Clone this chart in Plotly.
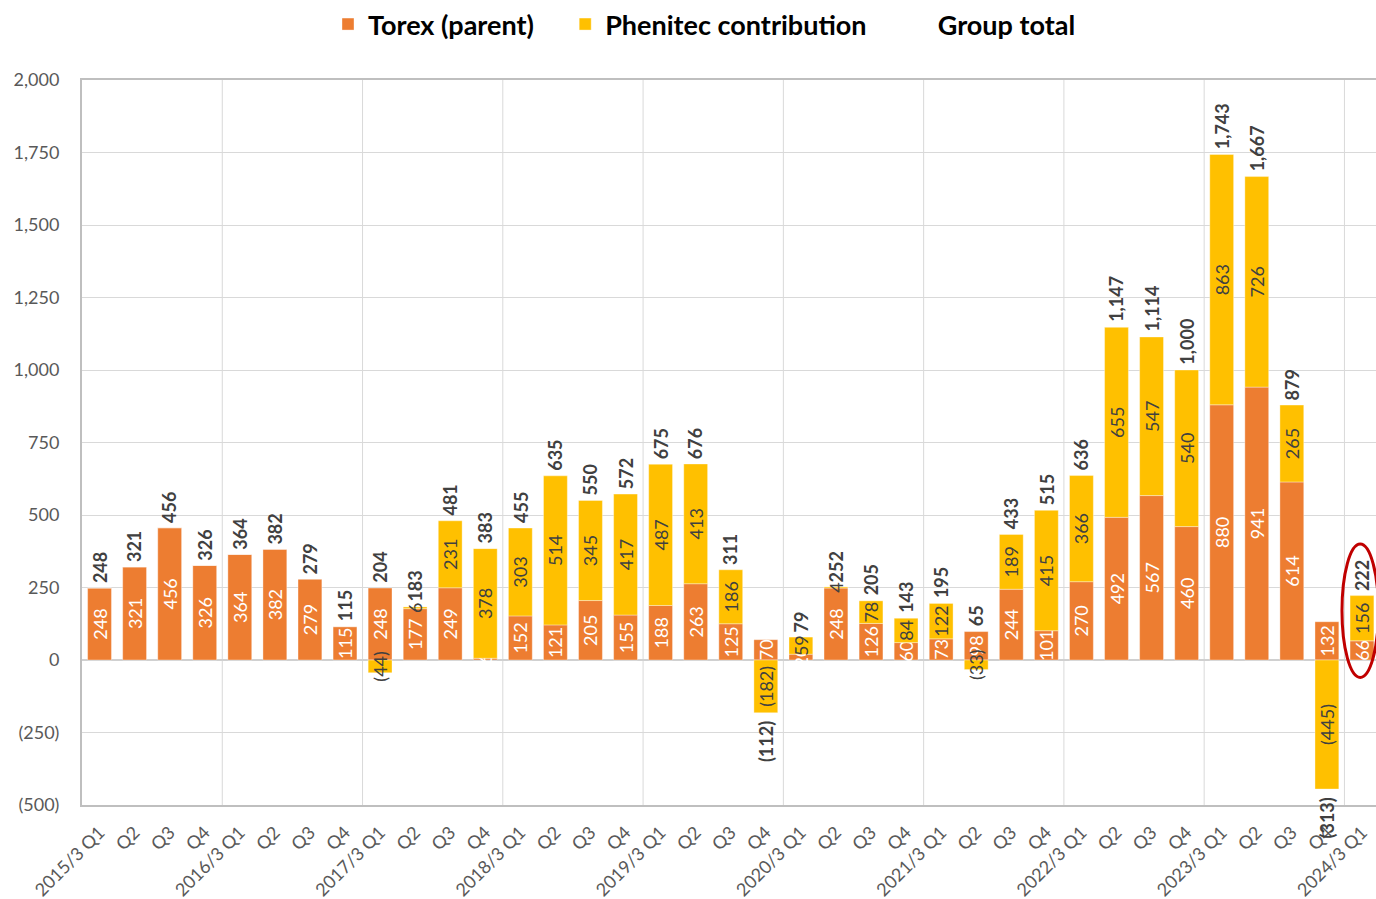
import plotly.graph_objects as go

quarters = [
    "2015/3 Q1", "Q2", "Q3", "Q4",
    "2016/3 Q1", "Q2", "Q3", "Q4",
    "2017/3 Q1", "Q2", "Q3", "Q4",
    "2018/3 Q1", "Q2", "Q3", "Q4",
    "2019/3 Q1", "Q2", "Q3", "Q4",
    "2020/3 Q1", "Q2", "Q3", "Q4",
    "2021/3 Q1", "Q2", "Q3", "Q4",
    "2022/3 Q1", "Q2", "Q3", "Q4",
    "2023/3 Q1", "Q2", "Q3", "Q4",
    "2024/3 Q1",
]

torex = [
    248, 321, 456, 326,
    364, 382, 279, 115,
    248, 177, 249, 6,
    152, 121, 205, 155,
    188, 263, 125, 70,
    20, 248, 126, 60,
    73, 98, 244, 101,
    270, 492, 567, 460,
    880, 941, 614, 132,
    66,
]

phenitec = [
    0, 0, 0, 0,
    0, 0, 0, 0,
    -44, 6, 231, 378,
    303, 514, 345, 417,
    487, 413, 186, -182,
    59, 4, 78, 84,
    122, -33, 189, 415,
    366, 655, 547, 540,
    863, 726, 265, -445,
    156,
]

group_total = [
    248, 321, 456, 326,
    364, 382, 279, 115,
    204, 183, 481, 383,
    455, 635, 550, 572,
    675, 676, 311, -112,
    79, 252, 205, 143,
    195, 65, 433, 515,
    636, 1147, 1114, 1000,
    1743, 1667, 879, -313,
    222,
]

y_ticks = [-500, -250, 0, 250, 500, 750, 1000, 1250, 1500, 1750, 2000]

ORANGE = "#ED7D31"
YELLOW = "#FFC000"
FONT = "Lato"
PAD = "\u00a0" * 4


def fmt(v):
    return f"{v:,}" if v >= 0 else f"({-v:,})"


x = list(range(len(quarters)))

fig = go.Figure()

fig.add_trace(go.Bar(
    x=x, y=torex, name="Torex (parent)" + PAD,
    marker=dict(color=ORANGE, line=dict(color="rgba(255,255,255,0.6)", width=0.6)),
    text=[fmt(v) for v in torex], textposition="inside", textangle=-90,
    insidetextanchor="middle", constraintext="none",
    textfont=dict(family=FONT, size=18, color="white"),
    hoverinfo="skip",
))

ph_text = [fmt(v) if v != 0 else "" for v in phenitec]
fig.add_trace(go.Bar(
    x=x, y=phenitec, name="Phenitec contribution" + PAD,
    marker=dict(color=YELLOW, line=dict(color="rgba(255,255,255,0.6)", width=0.6)),
    text=ph_text, textposition="inside", textangle=-90,
    insidetextanchor="middle", constraintext="none",
    textfont=dict(family=FONT, size=18, color="#404040"),
    hoverinfo="skip",
))

fig.add_trace(go.Scatter(
    x=x, y=group_total, name="Group total", mode="lines",
    line=dict(color="rgba(0,0,0,0)", width=0),
    hoverinfo="skip",
))

annotations = []
for i, tot in enumerate(group_total):
    pos = max(torex[i], 0) + max(phenitec[i], 0)
    neg = min(torex[i], 0) + min(phenitec[i], 0)
    if tot >= 0:
        annotations.append(dict(
            x=i, y=pos, xref="x", yref="y", text=f"<b>{fmt(tot)}</b>",
            textangle=-90, showarrow=False, yanchor="bottom", xanchor="center",
            yshift=3, font=dict(family=FONT, size=18, color="#404040"),
        ))
    else:
        annotations.append(dict(
            x=i, y=neg, xref="x", yref="y", text=f"<b>{fmt(tot)}</b>",
            textangle=-90, showarrow=False, yanchor="top", xanchor="center",
            yshift=-6, font=dict(family=FONT, size=18, color="#404040"),
        ))

shapes = []
for i, q in enumerate(quarters):
    if i > 0 and "/" in q:
        shapes.append(dict(
            type="line", xref="x", yref="paper", x0=i - 0.5, x1=i - 0.5,
            y0=0, y1=1, line=dict(color="#d9d9d9", width=1), layer="below",
        ))

last = len(quarters) - 1
shapes.append(dict(
    type="circle", xref="x", yref="y",
    x0=last - 0.57, x1=last + 0.47, y0=-60, y1=400,
    line=dict(color="#C00000", width=3),
))

fig.update_layout(
    width=1376, height=899,
    margin=dict(l=82, r=0, t=80, b=94, autoexpand=False),
    paper_bgcolor="white", plot_bgcolor="white",
    barmode="relative", bargap=0.32,
    font=dict(family=FONT, color="#595959"),
    showlegend=True,
    legend=dict(
        orientation="h", xref="container", yref="container",
        x=0.512, xanchor="center", y=1.0, yanchor="top",
        font=dict(family=FONT, size=27, color="black", weight="bold"),
        bgcolor="rgba(0,0,0,0)",
    ),
    annotations=annotations,
    shapes=shapes,
)

fig.update_xaxes(
    range=[-0.5, last + 0.4], automargin=False,
    tickmode="array", tickvals=x, ticktext=quarters, tickangle=-45,
    tickfont=dict(family=FONT, size=18, color="#595959"),
    showgrid=False, zeroline=False,
    showline=True, linecolor="#bfbfbf", linewidth=2, mirror=True,
    ticks="", ticklabelstandoff=8,
)

fig.update_yaxes(
    range=[-500, 2000], automargin=False,
    tickmode="array", tickvals=y_ticks, ticktext=[fmt(v) for v in y_ticks],
    tickfont=dict(family=FONT, size=18, color="#595959"),
    showgrid=True, gridcolor="#d9d9d9", gridwidth=1,
    zeroline=True, zerolinecolor="#d0d0d0", zerolinewidth=1.5,
    showline=True, linecolor="#bfbfbf", linewidth=2,
    ticks="", ticklabelstandoff=17,
)

fig.write_html(
    "out.html",
    config={"displayModeBar": False},
    post_script="document.body.style.margin='0';document.body.style.overflow='hidden';",
)
